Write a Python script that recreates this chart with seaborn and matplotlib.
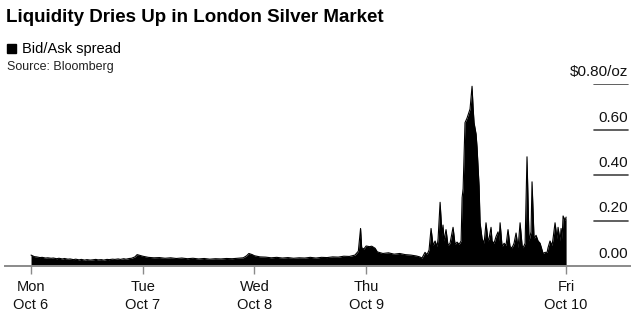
import matplotlib
matplotlib.use("Agg")
import matplotlib.pyplot as plt
import matplotlib.transforms as mtransforms
from matplotlib.patches import Rectangle
import seaborn as sns
import pandas as pd

# ---- data (x in trading-day units: Mon=0 ... Fri tick) ----
tick_pos = [0, 1, 2, 3, 4.79]
tick_labels = ["Mon\nOct 6", "Tue\nOct 7", "Wed\nOct 8", "Thu\nOct 9", "Fri\nOct 10"]
ytick_vals = [0.0, 0.2, 0.4, 0.6, 0.8]
ytick_labels = ["0.00", "0.20", "0.40", "0.60", "$0.80/oz"]

t_calm = [0.00, 0.03, 0.05, 0.08, 0.10, 0.13, 0.15, 0.18, 0.20, 0.23, 0.25, 0.28, 0.30,
          0.33, 0.35, 0.38, 0.40, 0.43, 0.45, 0.48, 0.50, 0.53, 0.55, 0.58, 0.60,
          0.63, 0.65, 0.68, 0.70, 0.73, 0.75, 0.78, 0.80, 0.83, 0.85, 0.88, 0.90,
          0.93, 0.95, 0.98, 1.00, 1.05, 1.10, 1.15, 1.20, 1.25, 1.30, 1.35, 1.40,
          1.45, 1.50, 1.55, 1.60, 1.65, 1.70, 1.75, 1.80, 1.85, 1.90, 1.93, 1.95,
          1.98, 2.00, 2.05, 2.10, 2.15, 2.20, 2.25, 2.30, 2.35, 2.40, 2.45, 2.50,
          2.55, 2.60, 2.65, 2.70, 2.75, 2.80, 2.85, 2.90, 2.93, 2.95, 2.96, 2.98,
          3.00, 3.03, 3.05, 3.08, 3.10, 3.15, 3.20, 3.25, 3.30, 3.35, 3.40, 3.45, 3.48]
v_calm = [0.048, 0.041, 0.040, 0.037, 0.038, 0.035, 0.036, 0.034, 0.035, 0.032, 0.034, 0.031, 0.033,
          0.030, 0.031, 0.028, 0.030, 0.027, 0.029, 0.026, 0.028, 0.026, 0.027, 0.029, 0.027,
          0.028, 0.026, 0.029, 0.028, 0.030, 0.029, 0.031, 0.029, 0.032, 0.030, 0.033, 0.034,
          0.040, 0.050, 0.046, 0.043, 0.038, 0.036, 0.037, 0.034, 0.036, 0.033, 0.035, 0.032,
          0.034, 0.031, 0.033, 0.030, 0.032, 0.031, 0.033, 0.032, 0.034, 0.036, 0.045, 0.055,
          0.050, 0.045, 0.040, 0.039, 0.036, 0.038, 0.035, 0.037, 0.034, 0.036, 0.035, 0.038,
          0.035, 0.038, 0.037, 0.040, 0.039, 0.043, 0.042, 0.048, 0.065, 0.165, 0.080, 0.075,
          0.088, 0.085, 0.087, 0.078, 0.062, 0.055, 0.058, 0.052, 0.055, 0.050, 0.048, 0.044, 0.040]

t_rally = [3.500, 3.527, 3.545, 3.563, 3.581, 3.599, 3.617, 3.635, 3.644, 3.662,
           3.680, 3.688, 3.697, 3.715, 3.733, 3.751, 3.778, 3.796, 3.814, 3.832,
           3.850, 3.859, 3.868, 3.885, 3.903, 3.930, 3.948, 3.957, 3.966, 3.984,
           3.993, 4.011, 4.020, 4.038, 4.056, 4.073, 4.091, 4.100, 4.118, 4.127,
           4.145, 4.163, 4.181, 4.190, 4.199, 4.217, 4.235, 4.252, 4.270, 4.288,
           4.306, 4.324, 4.342, 4.360, 4.378, 4.396, 4.405, 4.423, 4.440, 4.458,
           4.476, 4.485, 4.503, 4.521, 4.539, 4.557, 4.575, 4.584, 4.602, 4.620,
           4.628, 4.646, 4.664, 4.673, 4.691, 4.709, 4.718, 4.736, 4.745, 4.754,
           4.763, 4.772, 4.781, 4.790]
v_rally = [0.035, 0.060, 0.050, 0.070, 0.165, 0.090, 0.110, 0.085, 0.120, 0.280,
           0.130, 0.180, 0.110, 0.160, 0.090, 0.100, 0.170, 0.095, 0.105, 0.095,
           0.110, 0.300, 0.340, 0.630, 0.650, 0.690, 0.790, 0.700, 0.630, 0.580,
           0.520, 0.350, 0.190, 0.120, 0.100, 0.190, 0.110, 0.120, 0.170, 0.110,
           0.100, 0.130, 0.150, 0.110, 0.190, 0.085, 0.100, 0.090, 0.160, 0.085,
           0.080, 0.100, 0.145, 0.080, 0.190, 0.090, 0.080, 0.100, 0.480, 0.110,
           0.150, 0.370, 0.120, 0.135, 0.110, 0.100, 0.070, 0.055, 0.060, 0.060,
           0.080, 0.110, 0.090, 0.120, 0.190, 0.120, 0.170, 0.110, 0.165, 0.120,
           0.220, 0.210, 0.200, 0.215]

df = pd.DataFrame({"t": t_calm + t_rally, "spread": v_calm + v_rally})

# ---- figure ----
sns.set_theme(style="white")
plt.rcParams["font.family"] = ["Liberation Sans", "DejaVu Sans"]

W, H = 640, 319
fig = plt.figure(figsize=(6.4, 3.19), dpi=100)
fig.patch.set_facecolor("white")

ax_left, ax_right = 5, 630
ax_bottom_px, ax_top_px = 266, 84
ax = fig.add_axes([ax_left / W, (H - ax_bottom_px) / H,
                   (ax_right - ax_left) / W, (ax_bottom_px - ax_top_px) / H])
ax.set_facecolor("none")

sns.lineplot(data=df, x="t", y="spread", color="black", linewidth=0.8, ax=ax)
ax.fill_between(df["t"], df["spread"], 0, color="black", linewidth=0)

ax.set_xlim(-0.233, 5.362)
ax.set_ylim(0, 0.8)

for s in ["top", "right", "left"]:
    ax.spines[s].set_visible(False)
ax.spines["bottom"].set_color("#8a8a8a")
ax.spines["bottom"].set_linewidth(1.4)
ax.set_xlabel("")
ax.set_ylabel("")
ax.set_yticks([])
ax.set_xticks(tick_pos)
ax.set_xticklabels(tick_labels, fontsize=10.5, color="#111111", linespacing=1.35)
ax.tick_params(axis="x", direction="out", length=6, width=1.0, color="#8a8a8a", pad=4,
               bottom=True)

# right-side y labels with short rules
gx0 = (594 - ax_left) / (ax_right - ax_left)
gx1 = (628 - ax_left) / (ax_right - ax_left)
trans = mtransforms.blended_transform_factory(ax.transAxes, ax.transData)
off = mtransforms.offset_copy(trans, fig=fig, x=0, y=8, units="dots")
for val, lab in zip(ytick_vals, ytick_labels):
    if val > 0:
        ax.axhline(val, xmin=gx0, xmax=gx1, color="#444444", linewidth=1.2)
    ax.text(gx1, val, lab.replace("$", r"\$"), transform=off, ha="right", va="baseline",
            fontsize=11, color="#111111")

# title, legend, source
fig.text(6 / W, 1 - 18 / H, "Liquidity Dries Up in London Silver Market",
         fontsize=13.5, fontweight="bold", ha="left", va="center", color="black")
fig.patches.append(Rectangle((7 / W, 1 - 53 / H), 9 / W, 9 / H,
                             transform=fig.transFigure, color="black"))
fig.text(22 / W, 1 - 48.5 / H, "Bid/Ask spread", fontsize=10.5, ha="left", va="center",
         color="black")
fig.text(7 / W, 1 - 67 / H, "Source: Bloomberg", fontsize=9, ha="left", va="center",
         color="#222222")

fig.savefig("out.png", dpi=100, facecolor="white")
